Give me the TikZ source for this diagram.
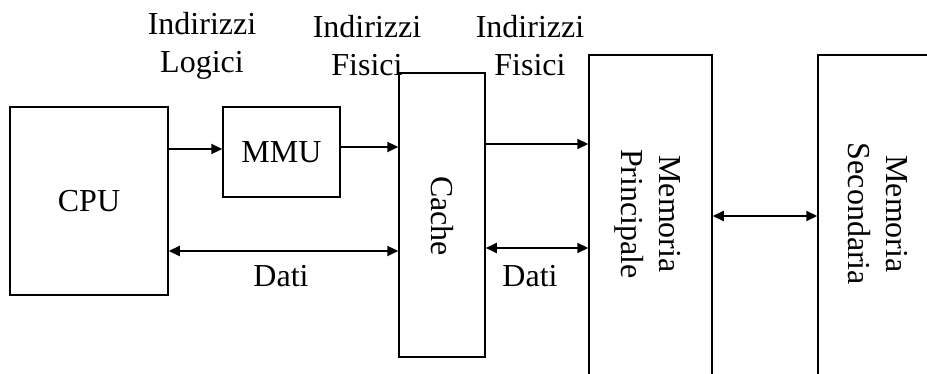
\documentclass[tikz,border=0pt]{standalone}
\usepackage{fontspec}
\setmainfont{Liberation Serif}
\usetikzlibrary{arrows.meta}
\tikzset{
  blockbox/.style={draw=black, line width=1.5pt, inner sep=0pt, font=\fontsize{32}{38}\selectfont},
  conn/.style={line width=2.2pt, -{Triangle[length=11pt,width=10pt]}},
  bconn/.style={line width=2.2pt, {Triangle[length=11pt,width=10pt]}-{Triangle[length=11pt,width=10pt]}},
  lbl/.style={font=\fontsize{32}{38}\selectfont, align=center, inner sep=0pt}
}
\begin{document}
\begin{tikzpicture}[x=1pt,y=-1pt]
\useasboundingbox (0,0) rectangle (927,374);
\clip (0,0) rectangle (927,374);
\node[blockbox, minimum width=158pt, minimum height=188pt] (cpu) at (89,201) {CPU};
\node[blockbox, minimum width=117pt, minimum height=90pt] (mmu) at (281.5,152) {MMU};
\node[blockbox, minimum width=86pt, minimum height=284pt] (cache) at (442,215) {};
\node[lbl, rotate=-90] (cachet) at (442,216) {Cache};
\node[blockbox, minimum width=123pt, minimum height=340pt] (mp) at (650.5,225) {};
\node[lbl, rotate=-90] (mpt) at (648,214) {Memoria\\Principale};
\node[blockbox, minimum width=124pt, minimum height=340pt] (ms) at (880,225) {};
\node[lbl, rotate=-90] (mst) at (878,214) {Memoria\\Secondaria};

\node[lbl] (il) at (202,46) {Indirizzi\\Logici};
\node[lbl] (if1) at (367,46) {Indirizzi\\Fisici};
\node[lbl] (if2) at (530,46) {Indirizzi\\Fisici};

\draw[conn] (cpu.east |- 0,149) -- (mmu.west |- 0,149);
\draw[conn] (mmu.east |- 0,147) -- (cache.west |- 0,147);
\draw[bconn] (cpu.east |- 0,251) -- (cache.west |- 0,251);
\node[lbl] (d1) at (281,276) {Dati};
\draw[conn] (cache.east |- 0,144) -- (mp.west |- 0,144);
\draw[bconn] (cache.east |- 0,248) -- (mp.west |- 0,248);
\node[lbl] (d2) at (530,276) {Dati};
\draw[bconn] (mp.east |- 0,216) -- (ms.west |- 0,216);
\end{tikzpicture}
\end{document}
